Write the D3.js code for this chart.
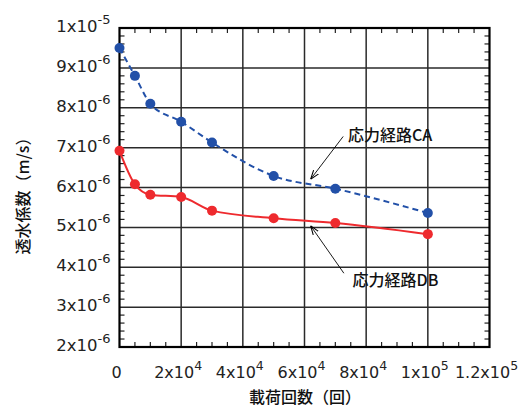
<!DOCTYPE html>
<html>
<head>
<meta charset="utf-8">
<script src="https://cdn.jsdelivr.net/npm/d3@7"></script>
<style>
  html, body { margin: 0; padding: 0; background: #fff; }
  svg { display: block; }
  .num { font-family: "DejaVu Sans", sans-serif; fill: #222; }
  .jp { font-family: "Noto Sans CJK JP", sans-serif; fill: #111; }
</style>
</head>
<body>
<svg id="chart" width="530" height="416"></svg>
<script>
// Load cycles (times) and permeability coefficients (x10^-6 m/s)
const cycles = [0, 5000, 10000, 20000, 30000, 50000, 70000, 100000];
const pathCA = [9.5, 8.8, 8.1, 7.65, 7.13, 6.29, 5.97, 5.36];
const pathDB = [6.92, 6.08, 5.82, 5.76, 5.42, 5.23, 5.11, 4.83];

// Axis tick labels: mantissa and exponent
const xTicks = [
  { v: 0, m: "0", e: "" },
  { v: 20000, m: "2x10", e: "4" },
  { v: 40000, m: "4x10", e: "4" },
  { v: 60000, m: "6x10", e: "4" },
  { v: 80000, m: "8x10", e: "4" },
  { v: 100000, m: "1x10", e: "5" },
  { v: 120000, m: "1.2x10", e: "5" }
];
const yTicks = [
  { v: 2, m: "2x10", e: "-6" },
  { v: 3, m: "3x10", e: "-6" },
  { v: 4, m: "4x10", e: "-6" },
  { v: 5, m: "5x10", e: "-6" },
  { v: 6, m: "6x10", e: "-6" },
  { v: 7, m: "7x10", e: "-6" },
  { v: 8, m: "8x10", e: "-6" },
  { v: 9, m: "9x10", e: "-6" },
  { v: 10, m: "1x10", e: "-5" }
];

// Callout labels: text position and arrow (start -> tip) in data units
const callouts = [
  { text: "応力経路CA", tx: 74100, ty: 7.17, x1: 72550, y1: 7.28, x2: 62000, y2: 6.21 },
  { text: "応力経路DB", tx: 75600, ty: 3.53, x1: 72770, y1: 3.85, x2: 62000, y2: 5.04 }
];

const svg = d3.select("#chart");
const L = 119.5, R = 489.5, T = 28, B = 347;

const x = d3.scaleLinear().domain([0, 120000]).range([L, R]);
const y = d3.scaleLinear().domain([2, 10]).range([B, T]);

const blue = "#2250a8";
const red = "#ee2a2e";

// Grid lines
const g = svg.append("g");
g.selectAll(".vg").data(d3.range(20000, 120000, 20000)).join("line")
  .attr("x1", d => x(d)).attr("x2", d => x(d))
  .attr("y1", T).attr("y2", B)
  .attr("stroke", "#2a2a2a").attr("stroke-width", 1.5);
g.selectAll(".hg").data(d3.range(3, 10, 1)).join("line")
  .attr("y1", d => y(d)).attr("y2", d => y(d))
  .attr("x1", L).attr("x2", R)
  .attr("stroke", "#2a2a2a").attr("stroke-width", 1.5);

// Minor ticks (inside, on all four sides)
const xMinor = d3.range(5000, 120000, 5000).filter(d => d % 20000 !== 0);
const yMinor = d3.range(2.2, 10, 0.2).filter(d => Math.abs(d - Math.round(d)) > 0.01);
const tl = 5;
g.selectAll(".xmb").data(xMinor).join("line")
  .attr("x1", d => x(d)).attr("x2", d => x(d)).attr("y1", B).attr("y2", B - tl)
  .attr("stroke", "#222").attr("stroke-width", 1.2);
g.selectAll(".xmt").data(xMinor).join("line")
  .attr("x1", d => x(d)).attr("x2", d => x(d)).attr("y1", T).attr("y2", T + tl)
  .attr("stroke", "#222").attr("stroke-width", 1.2);
g.selectAll(".yml").data(yMinor).join("line")
  .attr("y1", d => y(d)).attr("y2", d => y(d)).attr("x1", L).attr("x2", L + tl)
  .attr("stroke", "#222").attr("stroke-width", 1.2);
g.selectAll(".ymr").data(yMinor).join("line")
  .attr("y1", d => y(d)).attr("y2", d => y(d)).attr("x1", R).attr("x2", R - tl)
  .attr("stroke", "#222").attr("stroke-width", 1.2);

// Frame
svg.append("rect").attr("x", L).attr("y", T).attr("width", R - L).attr("height", B - T)
  .attr("fill", "none").attr("stroke", "#000").attr("stroke-width", 2.2);

// Tick labels with superscript exponents
function expLabel(sel, sfs, dy) {
  sel.append("tspan").text(d => d.m);
  sel.append("tspan").attr("dy", dy).attr("font-size", sfs).text(d => d.e);
}
svg.append("g").selectAll("text").data(xTicks).join("text")
  .attr("class", "num").attr("x", d => x(d.v) - 3).attr("y", B + 31)
  .attr("text-anchor", "middle").attr("font-size", 16)
  .call(expLabel, 12.5, -8);
svg.append("g").selectAll("text").data(yTicks).join("text")
  .attr("class", "num").attr("x", L - 9).attr("y", d => y(d.v) + 4)
  .attr("text-anchor", "end").attr("font-size", 16.5)
  .call(expLabel, 13, -8);

// Series lines and markers
const line = d3.line().curve(d3.curveMonotoneX)
  .x(d => x(d[0])).y(d => y(d[1]));
const ca = cycles.map((c, i) => [c, pathCA[i]]);
const db = cycles.map((c, i) => [c, pathDB[i]]);

svg.append("path").datum(db).attr("d", line)
  .attr("fill", "none").attr("stroke", red).attr("stroke-width", 2);
svg.append("path").datum(ca).attr("d", line)
  .attr("fill", "none").attr("stroke", blue).attr("stroke-width", 2)
  .attr("stroke-dasharray", "6,4");

svg.append("g").selectAll("circle").data(db).join("circle")
  .attr("cx", d => x(d[0])).attr("cy", d => y(d[1])).attr("r", 5).attr("fill", red);
svg.append("g").selectAll("circle").data(ca).join("circle")
  .attr("cx", d => x(d[0])).attr("cy", d => y(d[1])).attr("r", 5).attr("fill", blue);

// Callout arrows and labels
svg.append("defs").append("marker")
  .attr("id", "arrow").attr("viewBox", "0 0 10 10").attr("refX", 10).attr("refY", 5)
  .attr("markerWidth", 9).attr("markerHeight", 9).attr("markerUnits", "userSpaceOnUse")
  .attr("orient", "auto")
  .append("path").attr("d", "M0,1.5 L10,5 L0,8.5").attr("fill", "none")
  .attr("stroke", "#000").attr("stroke-width", 1.2);

const cg = svg.append("g");
cg.selectAll("line").data(callouts).join("line")
  .attr("x1", d => x(d.x1)).attr("y1", d => y(d.y1))
  .attr("x2", d => x(d.x2)).attr("y2", d => y(d.y2))
  .attr("stroke", "#000").attr("stroke-width", 0.9)
  .attr("marker-end", "url(#arrow)");
cg.selectAll("text").data(callouts).join("text")
  .attr("class", "jp").attr("x", d => x(d.tx)).attr("y", d => y(d.ty))
  .attr("font-size", 16).attr("font-weight", 500).text(d => d.text);

// Axis titles
svg.append("text").attr("class", "jp")
  .attr("x", 305).attr("y", 403).attr("text-anchor", "middle")
  .attr("font-size", 16).attr("font-weight", 500)
  .text("載荷回数（回）");
svg.append("text").attr("class", "jp")
  .attr("transform", "translate(29,192) rotate(-90)").attr("text-anchor", "middle")
  .attr("font-size", 16).attr("font-weight", 500)
  .text("透水係数（m/s）");
</script>
</body>
</html>
